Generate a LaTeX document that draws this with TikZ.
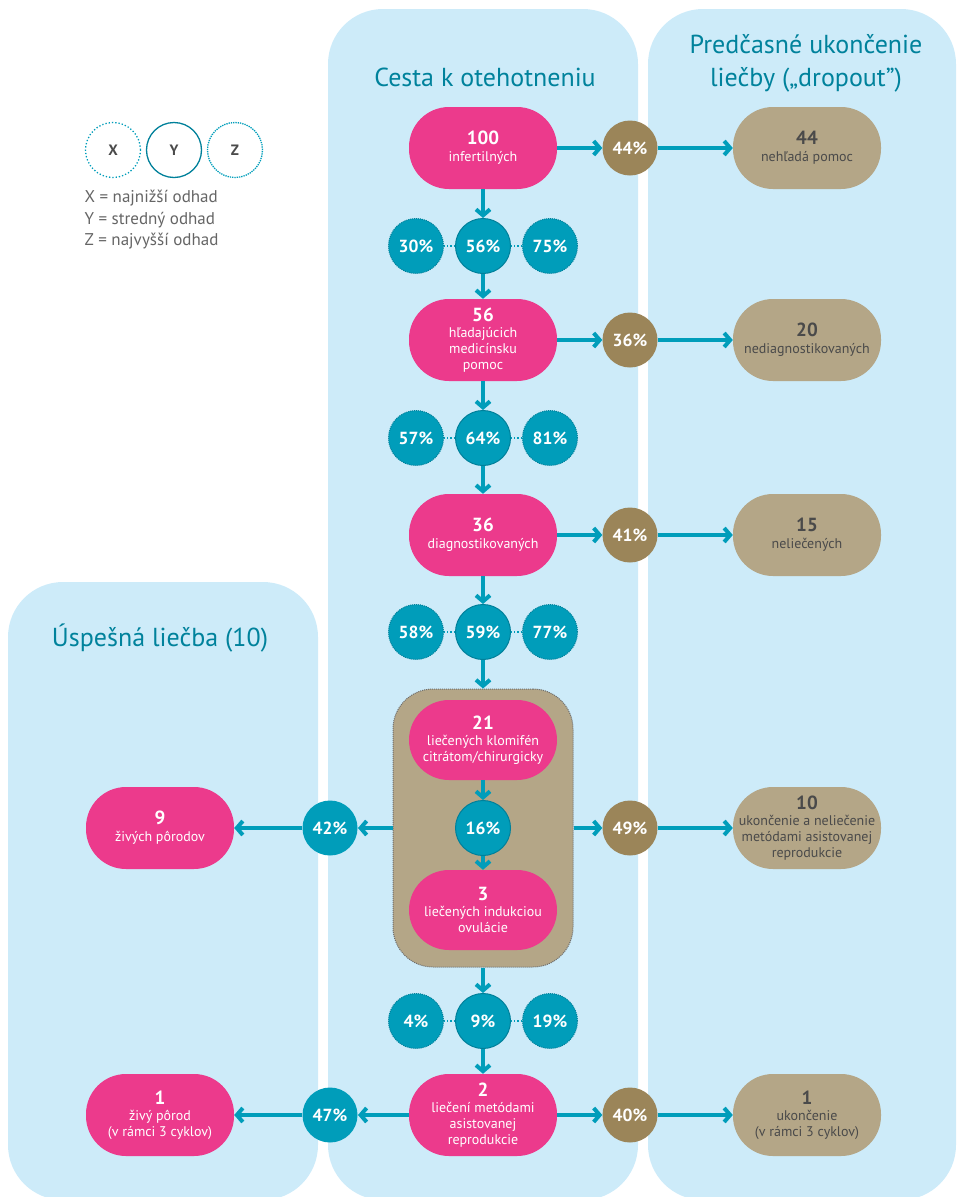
\documentclass[tikz,border=0pt]{standalone}
\usepackage{fontspec}
\setmainfont{PT Sans}
\usetikzlibrary{arrows.meta,positioning}

\definecolor{panelblue}{HTML}{CDEBF9}
\definecolor{pinkc}{HTML}{EC3A8C}
\definecolor{tealc}{HTML}{009DBA}
\definecolor{tealdark}{HTML}{00809A}
\definecolor{brownc}{HTML}{9B8559}
\definecolor{tanc}{HTML}{B4A687}
\definecolor{headc}{HTML}{00829C}
\definecolor{graytext}{HTML}{4A4A4A}

\newcommand{\cnt}{\fontsize{19}{21}\selectfont\bfseries}

\begin{document}
\begin{tikzpicture}[x=1pt,y=-1pt,
    every node/.style={font=\fontsize{14}{16}\selectfont},
    pill/.style={rounded corners=40pt, minimum width=148pt, minimum height=82pt, align=center, inner sep=2pt},
    pinkbox/.style={pill, fill=pinkc, text=white},
    tanbox/.style={pill, fill=tanc, text=graytext},
    pct/.style={circle, minimum size=55pt, inner sep=0pt, text=white, font=\fontsize{17.5}{19}\selectfont\bfseries},
    mid/.style={pct, fill=tealc, draw=tealdark, line width=1pt},
    side/.style={pct, fill=tealc, draw=tealdark, densely dotted, line width=1pt},
    drop/.style={pct, fill=brownc},
    flow/.style={draw=tealc, line width=4pt, -{Straight Barb[length=6pt,width=14pt]}},
    link/.style={draw=tealc, dotted, line width=1.2pt},
    header/.style={text=headc, font=\fontsize{26}{33}\selectfont, align=center},
    legend/.style={circle, minimum size=55pt, inner sep=0pt, text=graytext, font=\fontsize{15}{17}\selectfont\bfseries, line width=1.3pt}]
    \useasboundingbox (0,0) rectangle (956,1197);

    % panels
    \fill[panelblue, rounded corners=55pt] (328,9) rectangle (638,1200);
    \fill[panelblue, rounded corners=55pt] (648,9) rectangle (956,1200);
    \fill[panelblue, rounded corners=55pt] (8,582) rectangle (318,1200);

    \node[header] (hmid) at (485,77) {Cesta k otehotneniu};
    \node[header] (hright) at (806,63) {Predčasné ukončenie\\liečby („dropout”)};
    \node[header] (hleft) at (160,638) {Úspešná liečba (10)};

    % legend
    \node[legend, draw=tealc, dotted] (lx) at (113,150) {X};
    \node[legend, draw=tealdark] (ly) at (174,150) {Y};
    \node[legend, draw=tealc, densely dotted] (lz) at (235,150) {Z};
    \node[anchor=north west, align=left, text=graytext!85, font=\fontsize{17}{21.5}\selectfont] (ltext) at (81,187)
        {X = najnižší odhad\\Y = stredný odhad\\Z = najvyšší odhad};

    % group box
    \node[rounded corners=40pt, minimum width=180pt, minimum height=278pt, fill=tanc,
        draw=graytext!80, densely dotted, line width=1pt] (grp) at (483,828) {};

    % main chain
    \node[pinkbox] (p100) at (483,148) {{\cnt 100}\\[1pt]infertilných};
    \node[mid] (c56) at (483,246) {56\%};
    \node[pinkbox] (p56) at (483,340) {{\cnt 56}\\hľadajúcich\\medicínsku\\pomoc};
    \node[mid] (c64) at (483,438) {64\%};
    \node[pinkbox] (p36) at (483,535) {{\cnt 36}\\[1pt]diagnostikovaných};
    \node[mid] (c59) at (483,632) {59\%};
    \node[pinkbox, minimum height=80pt] (p21) at (483,740) {{\cnt 21}\\liečených klomifén\\citrátom/chirurgicky};
    \node[mid] (c16) at (483,828) {16\%};
    \node[pinkbox, minimum height=80pt] (p3) at (483,910) {{\cnt 3}\\liečených indukciou\\ovulácie};
    \node[mid] (c9) at (483,1021) {9\%};
    \node[pinkbox] (p2) at (483,1115) {{\cnt 2}\\liečení metódami\\asistovanej\\reprodukcie};

    % low and high estimates
    \node[side, left=11pt of c56] (c30) {30\%};
    \node[side, right=11pt of c56] (c75) {75\%};
    \node[side, left=11pt of c64] (c57) {57\%};
    \node[side, right=11pt of c64] (c81) {81\%};
    \node[side, left=11pt of c59] (c58) {58\%};
    \node[side, right=11pt of c59] (c77) {77\%};
    \node[side, left=11pt of c9] (c4) {4\%};
    \node[side, right=11pt of c9] (c19) {19\%};

    % dropout
    \node[drop] (d44) at (630,148) {44\%};
    \node[tanbox] (t44) at (807,148) {{\cnt 44}\\[1pt]nehľadá pomoc};
    \node[drop] (d36) at (630,340) {36\%};
    \node[tanbox] (t20) at (807,340) {{\cnt 20}\\[1pt]nediagnostikovaných};
    \node[drop] (d41) at (630,535) {41\%};
    \node[tanbox] (t15) at (807,535) {{\cnt 15}\\[1pt]neliečených};
    \node[drop] (d49) at (630,828) {49\%};
    \node[tanbox] (t10) at (807,828) {{\cnt 10}\\ukončenie a neliečenie\\metódami asistovanej\\reprodukcie};
    \node[drop] (d40) at (630,1115) {40\%};
    \node[tanbox] (t1) at (807,1115) {{\cnt 1}\\ukončenie\\(v rámci 3 cyklov)};

    % success
    \node[mid, draw=none] (c42) at (330,828) {42\%};
    \node[pinkbox] (p9) at (160,828) {{\cnt 9}\\[1pt]živých pôrodov};
    \node[mid, draw=none] (c47) at (330,1115) {47\%};
    \node[pinkbox] (p1) at (160,1115) {{\cnt 1}\\živý pôrod\\(v rámci 3 cyklov)};

    \draw[flow] (p100) -- (c56);
    \draw[flow] (c56) -- (p56);
    \draw[flow] (p56) -- (c64);
    \draw[flow] (c64) -- (p36);
    \draw[flow] (p36) -- (c59);
    \draw[flow] (c59) -- (grp);
    \draw[flow] (p21) -- (c16);
    \draw[flow] (c16) -- (p3);
    \draw[flow] (grp) -- (c9);
    \draw[flow] (c9) -- (p2);

    \foreach \a/\b in {c30/c56,c56/c75,c57/c64,c64/c81,c58/c59,c59/c77,c4/c9,c9/c19}
        \draw[link] (\a) -- (\b);

    \foreach \a/\b/\c in {p100/d44/t44,p56/d36/t20,p36/d41/t15,grp/d49/t10,p2/d40/t1}{
        \draw[flow] (\a) -- (\b);
        \draw[flow] (\b) -- (\c);
    }
    \draw[flow] (grp) -- (c42);
    \draw[flow] (c42) -- (p9);
    \draw[flow] (p2) -- (c47);
    \draw[flow] (c47) -- (p1);
\end{tikzpicture}
\end{document}
